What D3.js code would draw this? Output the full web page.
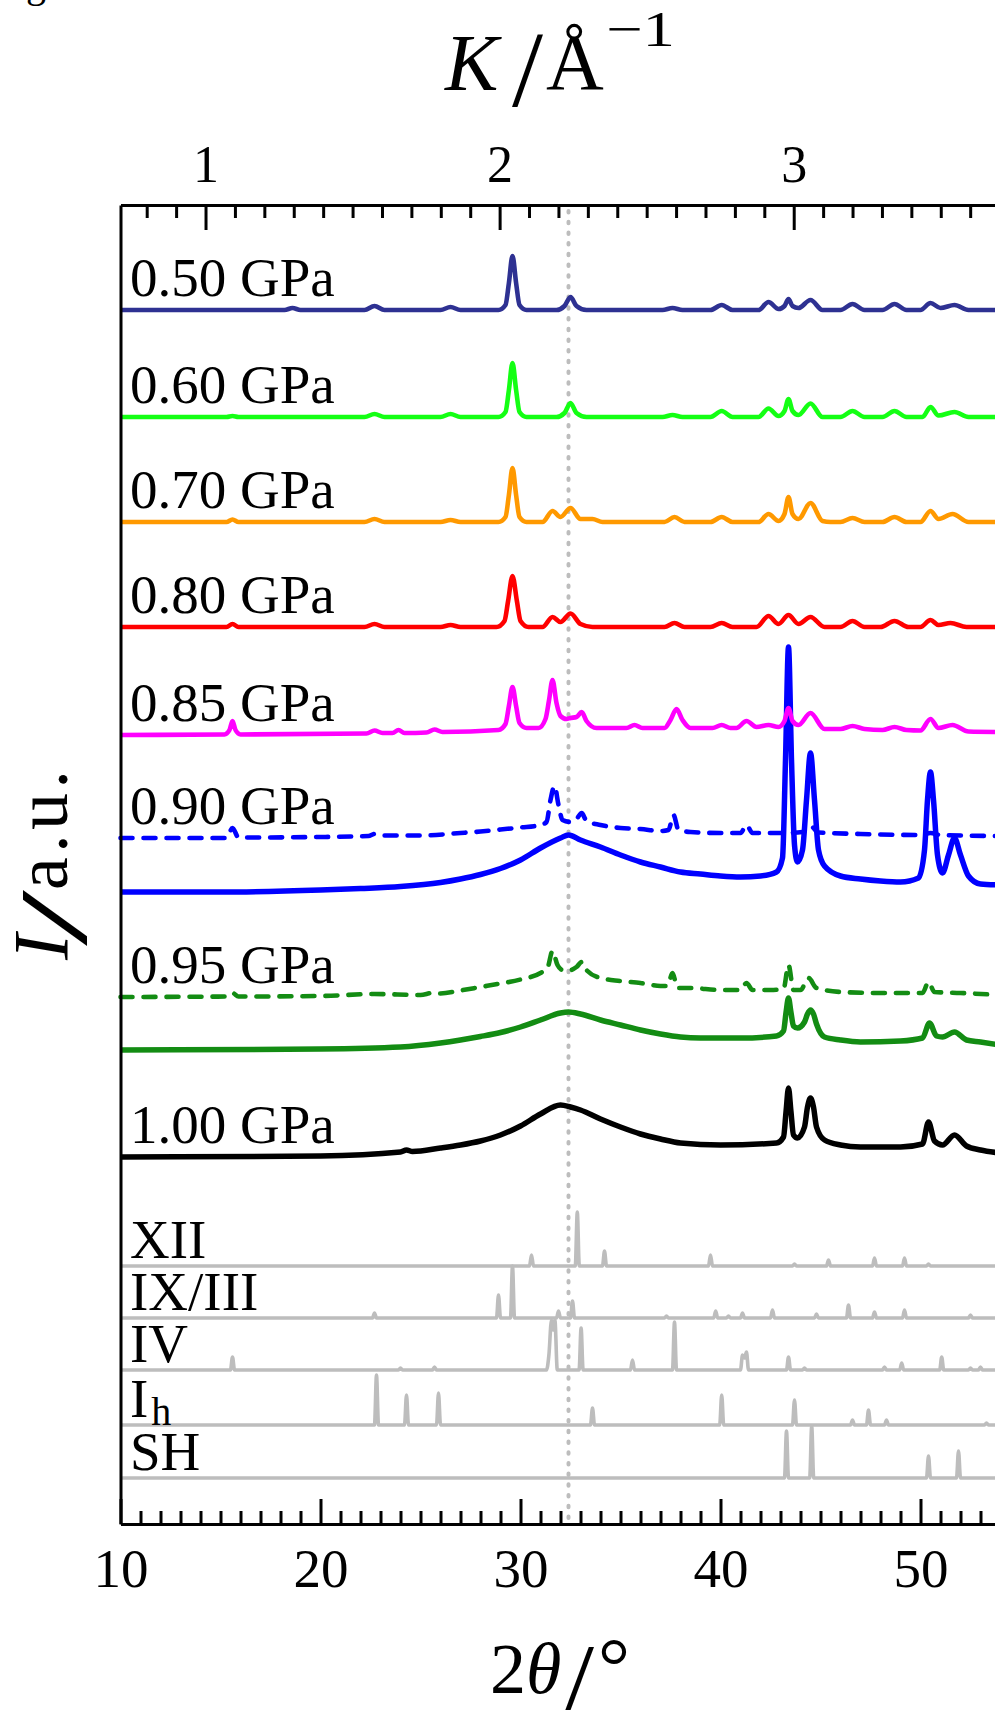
<!DOCTYPE html>
<html>
<head>
<meta charset="utf-8">
<script src="https://cdnjs.cloudflare.com/ajax/libs/d3/7.8.5/d3.min.js"></script>
<style>
html,body{margin:0;padding:0;background:#fff;overflow:hidden;}
svg{display:block;}
</style>
</head>
<body>
<svg id="chart" width="995" height="1710"></svg>
<script>
// ---------------- DATA (2θ in degrees, intensity in a.u., relative to each trace's offset) -------------
const xDomain = [10, 54];
const lambdaCu = 1.5406;            // Å, used for the secondary K axis
const xMajorTicks = [10, 20, 30, 40, 50];
const kMajorTicks = [1, 2, 3];
const refLine2Theta = 32.4;

const pressureLabels = ["0.50 GPa","0.60 GPa","0.70 GPa","0.80 GPa","0.85 GPa","0.90 GPa","0.95 GPa","1.00 GPa"];
const labelTraceIndex = [0,1,2,3,4,5,7,9];

const p050 = [[10,0],[18.2,0],[18.6,0.2],[19.0,0],[22.2,0],[22.7,0.4],[23.2,0],[26.0,0],[26.5,0.3],[27.0,0],
 [28.9,0],[29.25,0.5],[29.42,2.7],[29.6,5.4],[29.78,2.7],[29.95,0.5],[30.3,0],
 [31.8,0],[32.2,0.4],[32.5,1.3],[32.8,0.4],[33.3,0],[37.1,0],[37.6,0.2],[38.1,0],
 [39.5,0],[40.06,0.5],[40.6,0],[41.9,0],[42.4,0.8],[42.9,0.1],[43.2,0.4],[43.4,1.1],[43.6,0.4],[43.9,0.2],[44.5,1.0],[45.1,0],
 [46.0,0],[46.6,0.6],[47.2,0],[48.1,0],[48.7,0.6],[49.3,0],[50.0,0],[50.5,0.7],[51.0,0.2],[51.7,0.5],[52.4,0],[54,0]];
const p060 = [[10,0],[15.3,0],[15.6,0.1],[15.9,0],[22.2,0],[22.7,0.3],[23.2,0],[26.0,0],[26.5,0.3],[27.0,0],
 [28.9,0],[29.25,0.5],[29.42,2.7],[29.6,5.4],[29.78,2.7],[29.95,0.5],[30.3,0],
 [31.8,0],[32.2,0.4],[32.5,1.4],[32.8,0.4],[33.3,0],[37.1,0],[37.6,0.2],[38.1,0],
 [39.5,0],[40.06,0.6],[40.6,0],[41.9,0],[42.4,0.85],[42.9,0.1],[43.2,0.6],[43.4,1.8],[43.6,0.6],[43.9,0.2],[44.5,1.35],[45.1,0],
 [46.0,0],[46.6,0.6],[47.2,0],[48.1,0],[48.7,0.6],[49.3,0],[50.1,0],[50.5,1.0],[50.9,0.15],[51.7,0.5],[52.4,0],[54,0]];
const p070 = [[10,0],[15.3,0],[15.6,0.25],[15.9,0],[22.2,0],[22.7,0.3],[23.2,0],[26.0,0],[26.5,0.2],[27.0,0],
 [28.9,0],[29.25,0.5],[29.42,2.7],[29.6,5.4],[29.78,2.7],[29.95,0.5],[30.3,0],
 [31.1,0],[31.6,1.1],[32.0,0.5],[32.5,1.4],[33.0,0.3],[33.6,0.3],[34.1,0],[37.2,0],[37.7,0.5],[38.2,0],
 [39.5,0],[40.06,0.5],[40.6,0],[41.9,0],[42.4,0.8],[42.9,0.1],[43.2,0.8],[43.4,2.5],[43.6,0.8],[43.9,0.3],[44.5,1.9],[45.1,0.1],[45.5,0],
 [46.0,0],[46.6,0.4],[47.2,0],[48.1,0],[48.7,0.5],[49.3,0],[50.0,0],[50.5,1.1],[50.9,0.3],[51.6,0.8],[52.4,0],[54,0]];
const p080 = [[10,0],[15.3,0],[15.6,0.3],[15.9,0],[22.2,0],[22.7,0.3],[23.2,0],[26.0,0],[26.5,0.2],[27.0,0],
 [28.8,0],[29.2,0.6],[29.38,2.6],[29.6,5.1],[29.82,2.6],[30.0,0.6],[30.4,0],
 [31.1,0],[31.6,1.0],[32.0,0.5],[32.5,1.35],[33.0,0.3],[33.6,0],[37.2,0],[37.7,0.4],[38.2,0],
 [39.5,0],[40.06,0.4],[40.6,0],[41.8,0],[42.4,1.1],[42.9,0.3],[43.4,1.2],[43.9,0.3],[44.5,1.0],[45.2,0],
 [46.0,0],[46.6,0.6],[47.2,0],[48.0,0],[48.7,0.6],[49.4,0],[50.0,0],[50.5,0.7],[50.9,0.2],[51.5,0.4],[52.3,0],[54,0]];
const p085 = [[10,0],[15.2,0.05],[15.45,0.5],[15.6,1.4],[15.75,0.5],[16.0,0.05],
 [22.3,0.15],[22.7,0.45],[23.1,0.2],[23.6,0.2],[23.9,0.5],[24.2,0.2],[25.3,0.25],[25.7,0.55],[26.1,0.3],
 [28.9,0.5],[29.25,1.1],[29.42,2.9],[29.6,4.8],[29.78,2.9],[29.95,1.2],[30.3,0.7],
 [30.9,0.7],[31.25,1.6],[31.42,3.4],[31.6,5.5],[31.8,3.2],[32.0,1.9],[32.3,1.6],[32.5,1.7],[32.8,1.8],[33.06,2.3],[33.3,1.4],[33.8,0.7],
 [35.3,0.7],[35.7,1.0],[36.1,0.7],[37.2,0.7],[37.5,1.5],[37.8,2.6],[38.1,1.5],[38.5,0.7],
 [39.6,0.7],[40.06,1.0],[40.5,0.7],[40.8,0.7],[41.3,1.4],[41.8,0.8],[42.4,1.0],[42.9,0.8],[43.2,1.4],[43.4,2.7],[43.6,1.4],[43.9,1.0],[44.5,2.2],[45.2,0.6],
 [46.0,0.6],[46.6,0.9],[47.2,0.6],[48.1,0.5],[48.7,0.8],[49.3,0.5],[50.0,0.45],[50.5,1.6],[50.9,0.7],[51.6,1.0],[52.4,0.35],[54,0.3]];
const p090dash = [[10,0],[15.3,0],[15.6,1.0],[15.9,0.05],[20,0.1],[22.4,0.2],[22.7,0.4],[23.0,0.25],[25,0.25],[27,0.5],[28,0.65],[29,0.85],[30,1.05],[31,1.3],
 [31.3,1.6],[31.5,3.8],[31.7,5.2],[31.9,3.3],[32.1,1.8],[32.5,1.6],[32.8,1.9],[33.06,2.5],[33.3,1.7],[34,1.3],[35,1.0],[36,0.9],[37,0.7],
 [37.4,0.8],[37.65,2.3],[37.9,0.8],[38.5,0.6],[40,0.5],[41.0,0.5],[41.3,1.3],[41.6,0.5],[43,0.5],[44.1,0.6],[44.5,1.2],[44.9,0.55],
 [47,0.4],[50,0.3],[50.5,0.5],[51,0.3],[54,0.2]];
const p090 = [[10,0],[15,0],[20,0.2],[22,0.35],[24,0.55],[26,0.95],[27,1.3],[28,1.75],[29,2.35],[30,3.2],[31,4.4],[32,5.4],[32.4,5.7],[33,5.2],
 [34,4.5],[35,3.7],[36,3.0],[37,2.5],[38,2.0],[39,1.8],[40,1.6],[41,1.5],[42,1.6],[42.8,2.0],[43.1,3.4],[43.25,13.2],[43.4,24.5],[43.55,13.2],[43.7,4.7],
 [43.85,3.0],[44.1,4.2],[44.3,9.2],[44.5,13.9],[44.7,9.2],[44.9,4.2],[45.2,2.6],[46,1.6],[47,1.3],[48,1.1],[49,1.0],[49.9,1.4],
 [50.2,4.2],[50.35,9.2],[50.5,12.0],[50.65,9.2],[50.85,3.7],[51.1,1.9],[51.4,3.7],[51.7,5.4],[52.0,3.7],[52.4,1.6],[53,0.8],[54,0.7]];
const p095dash = [[10,0],[15.3,0.05],[15.6,0.4],[15.9,0.05],[20,0.1],[22.7,0.3],[25,0.2],[25.6,0.4],[26.0,0.35],[27,0.65],[28,1.0],[29,1.35],[30,1.75],[31,2.4],
 [31.35,2.9],[31.6,4.6],[31.85,3.2],[32.1,2.7],[32.5,2.7],[32.8,3.0],[33.06,3.5],[33.3,2.7],[34,1.9],[35,1.6],[36,1.4],[37,1.1],
 [37.35,1.1],[37.6,2.4],[37.85,0.9],[38.5,0.9],[40,0.7],[41.0,0.7],[41.3,1.4],[41.6,0.7],[42.5,0.7],[43.15,0.8],[43.4,3.2],[43.65,0.7],
 [44.0,0.7],[44.4,1.9],[44.8,0.9],[46,0.5],[48,0.4],[50.1,0.4],[50.4,1.5],[50.7,0.5],[52,0.4],[54,0.2]];
const p095 = [[10,0],[20,0.1],[24,0.3],[26,0.7],[27,1.0],[28,1.35],[29,1.75],[30,2.3],[31,3.0],[32,3.7],[32.4,3.8],[33,3.6],[34,3.0],[35,2.5],[36,2.0],
 [37,1.6],[38,1.3],[39,1.2],[41,1.2],[42.8,1.4],[43.15,1.9],[43.28,3.8],[43.4,5.2],[43.52,3.8],[43.65,2.4],[43.85,2.2],[44.2,2.8],[44.35,3.6],
 [44.5,4.0],[44.65,3.6],[44.8,2.6],[45.2,1.3],[46,1.0],[47,0.8],[49,0.9],[50.1,1.2],[50.45,2.7],[50.8,1.4],[51.1,1.3],[51.7,1.8],[52.3,1.0],[53,0.8],[54,0.5]];
const p100 = [[10,0],[20,0.1],[24,0.5],[24.3,0.7],[24.6,0.55],[26,0.9],[27,1.2],[28,1.6],[29,2.2],[30,3.1],[31,4.3],[32,5.2],[32.5,5.0],[33,4.7],[34,3.8],
 [35,3.0],[36,2.3],[37,1.8],[38,1.4],[40,1.2],[42.8,1.4],[43.15,2.0],[43.28,4.6],[43.4,6.9],[43.52,4.6],[43.65,2.2],[43.85,1.9],[44.2,3.0],
 [44.35,5.0],[44.5,5.9],[44.65,5.0],[44.8,3.0],[45.2,1.7],[46,1.2],[47,1.0],[49,1.0],[50.1,1.3],[50.4,3.5],[50.7,1.6],[51.1,1.2],[51.7,2.2],
 [52.3,1.1],[53,0.7],[54,0.4]];

const traceData    = [p050, p060, p070, p080, p085, p090dash, p090, p095dash, p095, p100];
const traceOffsets = [121.4, 110.7, 100.2, 89.7, 78.9, 68.6, 63.2, 52.7, 47.4, 36.7];
const traceColors  = ["#2e3192","#14ff14","#ff9900","#ff0000","#ff00ff","#0000ff","#0000ff","#138c13","#138c13","#000000"];
const traceDashed  = [false,false,false,false,false,true,false,true,false,false];
const traceBroad   = [false,false,false,false,false,false,true,false,true,true];

// reference phases
const refNames = ["XII","IX/III","IV","I","SH"];
const refSub   = ["","","","h",""];
const refXII = [[10,0],[30.45,0],[30.55,1.1],[30.65,0],[32.74,0],[32.84,5.4],[32.94,0],[34.1,0],[34.2,1.5],[34.3,0],[39.4,0],[39.5,1.1],[39.6,0],
 [43.6,0],[43.7,0.2],[43.8,0],[45.3,0],[45.4,0.6],[45.5,0],[47.6,0],[47.7,0.8],[47.8,0],[49.1,0],[49.2,0.8],[49.3,0],[50.3,0],[50.4,0.2],[50.5,0],[54,0]];
const refIX = [[10,0],[22.6,0],[22.7,0.5],[22.8,0],[28.8,0],[28.9,2.3],[29.0,0],[29.5,0],[29.6,5.2],[29.7,0],[31.8,0],[31.9,0.7],[32.0,0],
 [32.5,0],[32.6,1.7],[32.7,0],[37.2,0],[37.3,0.2],[37.4,0],[39.66,0],[39.76,0.7],[39.86,0],[40.3,0],[40.4,0.2],[40.5,0],[41.0,0],[41.1,0.5],[41.2,0],
 [42.5,0],[42.6,0.8],[42.7,0],[44.7,0],[44.8,0.4],[44.9,0],[46.3,0],[46.4,1.3],[46.5,0],[47.6,0],[47.7,0.6],[47.8,0],[49.1,0],[49.2,0.8],[49.3,0],
 [52.4,0],[52.5,0.3],[52.6,0],[54,0]];
const refIV = [[10,0],[15.5,0],[15.6,1.3],[15.7,0],[23.9,0],[24.0,0.2],[24.1,0],[25.6,0],[25.7,0.3],[25.8,0],[31.3,0],[31.42,1.5],[31.55,5.0],
 [31.63,4.0],[31.72,5.0],[31.84,0],[32.93,0],[33.03,4.2],[33.13,0],[35.5,0],[35.6,1.0],[35.7,0],[37.6,0],[37.7,4.8],[37.8,0],
 [41.0,0],[41.1,1.5],[41.2,1.2],[41.3,1.8],[41.4,0],[43.3,0],[43.4,1.3],[43.5,0],[44.1,0],[44.2,0.2],[44.3,0],[48.1,0],[48.2,0.3],[48.3,0],
 [48.96,0],[49.06,0.7],[49.16,0],[50.96,0],[51.06,1.3],[51.16,0],[52.4,0],[52.5,0.2],[52.6,0],[52.9,0],[53.0,0.3],[53.1,0],[54,0]];
const refIh = [[10,0],[22.7,0],[22.8,5.0],[22.9,0],[24.2,0],[24.3,3.0],[24.4,0],[25.8,0],[25.9,3.2],[26.0,0],[33.5,0],[33.6,1.7],[33.7,0],
 [39.96,0],[40.06,3.0],[40.16,0],[43.6,0],[43.7,2.5],[43.8,0],[46.5,0],[46.6,0.5],[46.7,0],[47.3,0],[47.4,1.5],[47.5,0],[48.2,0],[48.3,0.5],[48.4,0],
 [53.2,0],[53.3,0.2],[53.4,0],[54,0]];
const refSH = [[10,0],[43.2,0],[43.3,4.7],[43.4,0],[44.46,0],[44.56,5.2],[44.66,0],[50.3,0],[50.4,2.2],[50.5,0],[51.8,0],[51.9,2.7],[52.0,0],[54,0]];
const refData    = [refXII, refIX, refIV, refIh, refSH];
const refOffsets = [25.8, 20.6, 15.4, 9.9, 4.6];

// ---------------- LAYOUT -------------
const plotLeft = 120.5, plotRight = 1000.5, plotTop = 205, plotBottom = 1524;
const FONT = "'Liberation Serif','Times New Roman',Times,serif";

const svg = d3.select("#chart");
const x = d3.scaleLinear().domain(xDomain).range([plotLeft, plotRight]);
const y = d3.scaleLinear().domain([0, (plotBottom - plotTop) / 10]).range([plotBottom, plotTop]);
const kOf = t => 4 * Math.PI * Math.sin(t / 2 * Math.PI / 180) / lambdaCu;
const k = d3.scaleLinear().domain(xDomain.map(kOf)).range([plotLeft, plotRight]);

svg.append("text").attr("x", 26).attr("y", -3).attr("font-family", FONT).attr("font-size", 40).text("g");

const plot = svg.append("g");

// dotted reference line
plot.append("line")
  .attr("x1", x(refLine2Theta)).attr("x2", x(refLine2Theta))
  .attr("y1", plotTop + 6).attr("y2", plotBottom - 4)
  .attr("stroke", "#bdbdbd").attr("stroke-width", 4)
  .attr("stroke-dasharray", "1.5,9.2").attr("stroke-linecap", "round");

// reference phases
refData.forEach((d, i) => {
  const ln = d3.line().x(p => x(p[0])).y(p => y(refOffsets[i] + p[1])).curve(d3.curveMonotoneX);
  plot.append("path").attr("d", ln(d)).attr("fill", "none")
    .attr("stroke", "#bdbdbd").attr("stroke-width", 3.6).attr("stroke-linejoin", "round");
});

// measured traces, drawn from bottom to top
for (let i = traceData.length - 1; i >= 0; i--) {
  const off = traceOffsets[i];
  const ln = d3.line().x(p => x(p[0])).y(p => y(off + p[1])).curve(d3.curveMonotoneX);
  const path = plot.append("path").attr("d", ln(traceData[i])).attr("fill", "none")
    .attr("stroke", traceColors[i]).attr("stroke-width", traceBroad[i] ? 5.5 : 4.6)
    .attr("stroke-linejoin", "round");
  if (traceDashed[i]) path.attr("stroke-dasharray", "12,11").attr("stroke-linecap", "round");
}

// ---------------- AXES -------------
function styleAxis(g) {
  g.selectAll("path.domain").attr("stroke", "#000").attr("stroke-width", 3);
  g.selectAll(".tick line").attr("stroke", "#000").attr("stroke-width", 3);
  g.selectAll("text").attr("font-family", FONT).attr("fill", "#000");
}
const xMinor = d3.range(11, 54, 1).filter(v => v % 10 !== 0);
const kMinor = d3.range(8, 38, 1).map(v => v / 10).filter(v => Math.abs(v - Math.round(v)) > 1e-6);

const gb = svg.append("g").attr("transform", `translate(0,${plotBottom})`)
  .call(d3.axisBottom(x).tickValues(xMajorTicks).tickSize(-25).tickSizeOuter(0).tickFormat(d3.format("d")));
gb.selectAll("text").attr("y", 63).attr("dy", 0).attr("font-size", 55);
styleAxis(gb);
const gbm = svg.append("g").attr("transform", `translate(0,${plotBottom})`)
  .call(d3.axisBottom(x).tickValues(xMinor).tickSize(-13).tickSizeOuter(0).tickFormat(""));
styleAxis(gbm);

const gt = svg.append("g").attr("transform", `translate(0,${plotTop})`)
  .call(d3.axisTop(k).tickValues(kMajorTicks).tickSize(-25).tickSizeOuter(0).tickFormat(d3.format("d")));
gt.selectAll("text").attr("y", -23).attr("dy", 0).attr("font-size", 52);
styleAxis(gt);
const gtm = svg.append("g").attr("transform", `translate(0,${plotTop})`)
  .call(d3.axisTop(k).tickValues(kMinor).tickSize(-13).tickSizeOuter(0).tickFormat(""));
styleAxis(gtm);

const gl = svg.append("g").attr("transform", `translate(${plotLeft},0)`)
  .call(d3.axisLeft(y).ticks(0).tickSizeOuter(0));
styleAxis(gl);

// ---------------- LABELS -------------
pressureLabels.forEach((t, i) => {
  svg.append("text").attr("x", 130).attr("y", y(traceOffsets[labelTraceIndex[i]]) - 14)
    .attr("font-family", FONT).attr("font-size", 55).attr("fill", "#000").text(t);
});
refNames.forEach((t, i) => {
  const tx = svg.append("text").attr("x", 130).attr("y", y(refOffsets[i]) - 8)
    .attr("font-family", FONT).attr("font-size", 55).attr("fill", "#000");
  tx.append("tspan").text(t);
  if (refSub[i]) tx.append("tspan").attr("dy", 8).attr("dx", 3).attr("font-size", 40).text(refSub[i]);
});

// top title K/Å^-1
const tt = svg.append("g").attr("font-family", FONT).attr("fill", "#000");
tt.append("text").attr("x", 445).attr("y", 90).attr("font-size", 80).attr("font-style", "italic").text("K");
tt.append("text").attr("x", 512).attr("y", 106).attr("font-size", 108)
  .attr("textLength", 31).attr("lengthAdjust", "spacingAndGlyphs").text("/");
tt.append("text").attr("x", 546).attr("y", 90).attr("font-size", 80).text("Å");
tt.append("text").attr("x", 606).attr("y", 46).attr("font-size", 50)
  .attr("textLength", 69).attr("lengthAdjust", "spacingAndGlyphs").text("−1");

// bottom title 2θ/°
const bt = svg.append("g").attr("font-family", FONT).attr("fill", "#000");
bt.append("text").attr("x", 490).attr("y", 1693).attr("font-size", 72).text("2");
bt.append("text").attr("x", 526).attr("y", 1693).attr("font-size", 72).attr("font-style", "italic").text("θ");
bt.append("text").attr("x", 564).attr("y", 1712).attr("font-size", 100)
  .attr("textLength", 30).attr("lengthAdjust", "spacingAndGlyphs").text("/");
bt.append("text").attr("x", 598).attr("y", 1693).attr("font-size", 80).text("°");

// y title I/a.u.
const yt = svg.append("g").attr("transform", "translate(67,0) rotate(-90)")
  .attr("font-family", FONT).attr("fill", "#000");
yt.append("text").attr("x", -960).attr("y", 0).attr("font-size", 78).attr("font-style", "italic").text("I");
yt.append("text").attr("x", -946).attr("y", 19).attr("font-size", 95)
  .attr("textLength", 56).attr("lengthAdjust", "spacingAndGlyphs").text("/");
yt.append("text").attr("x", -890).attr("y", 0).attr("font-size", 74)
  .attr("textLength", 120).attr("lengthAdjust", "spacing").text("a.u.");
</script>
</body>
</html>
